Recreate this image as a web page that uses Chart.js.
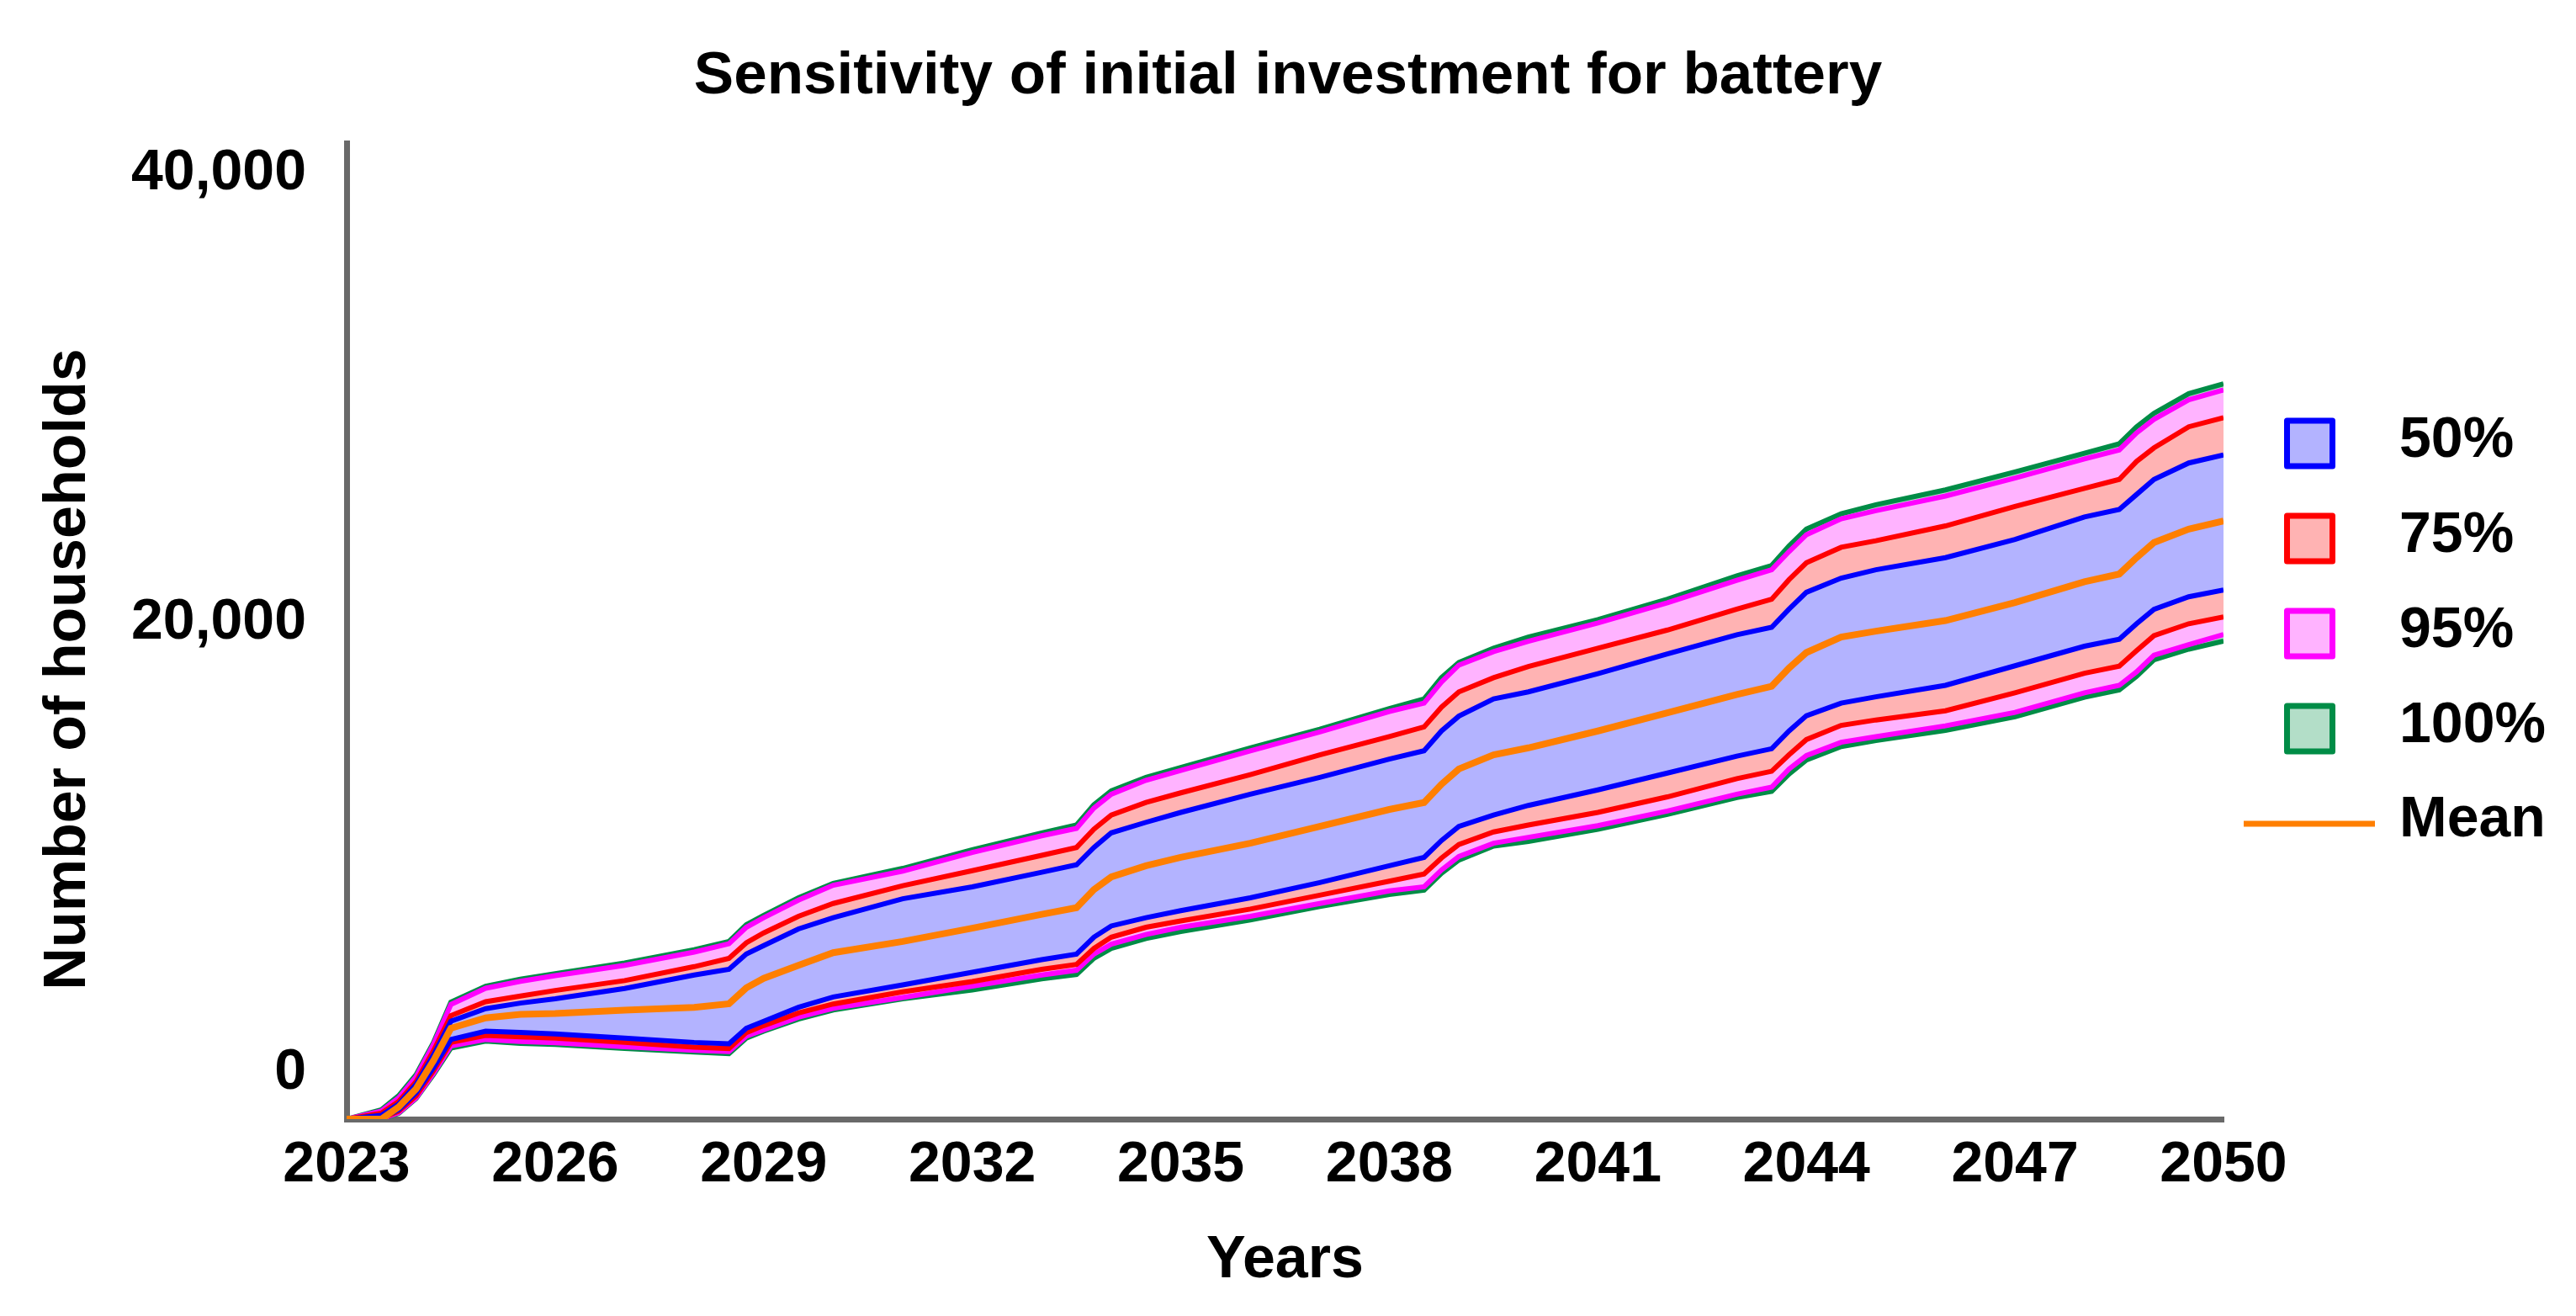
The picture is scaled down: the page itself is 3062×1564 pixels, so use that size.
<!DOCTYPE html>
<html>
<head>
<meta charset="utf-8">
<title>Sensitivity of initial investment for battery</title>
<script src="https://cdn.jsdelivr.net/npm/chart.js@4.4.1/dist/chart.umd.min.js"></script>
<style>
  html, body { margin: 0; padding: 0; background: #fff; }
  #wrap { width: 3062px; height: 1564px; position: relative; }
</style>
</head>
<body>
<div id="wrap"><canvas id="chart"></canvas></div>
<script>
// x positions (years)
const years = [2023, 2023.5, 2023.75, 2024, 2024.25, 2024.5, 2025, 2025.5, 2026, 2027, 2028,
  2028.5, 2028.75, 2029, 2029.5, 2030, 2031, 2032, 2033, 2033.5, 2033.75, 2034, 2034.5, 2035,
  2036, 2037, 2038, 2038.5, 2038.75, 2039, 2039.5, 2040, 2041, 2042, 2043, 2043.5, 2043.75,
  2044, 2044.5, 2045, 2046, 2047, 2048, 2048.5, 2048.75, 2049, 2049.5, 2050];

const mean = [0, 0, 540, 1350, 2600, 4040, 4500, 4660, 4700, 4850, 4970,
  5130, 5840, 6260, 6840, 7400, 7900, 8490, 9110, 9400, 10210, 10770, 11270, 11640,
  12270, 13020, 13770, 14080, 14890, 15570, 16200, 16510, 17260, 18070, 18880, 19250, 20060,
  20750, 21440, 21700, 22170, 22970, 23900, 24240, 24970, 25640, 26240, 26600];

const p50Upper = [0, 170, 670, 1540, 2850, 4350, 4910, 5160, 5350, 5810, 6410,
  6660, 7340, 7720, 8460, 8960, 9800, 10330, 10980, 11310, 12080, 12730, 13200, 13640,
  14450, 15200, 16010, 16380, 17260, 17920, 18690, 19000, 19810, 20690, 21540, 21870, 22680,
  23430, 24060, 24430, 24970, 25780, 26780, 27110, 27780, 28450, 29180, 29540];
const p50Lower = [0, 40, 420, 1170, 2290, 3540, 3910, 3850, 3790, 3600, 3410,
  3350, 4040, 4350, 4970, 5430, 5970, 6530, 7090, 7340, 8090, 8590, 8960, 9270,
  9840, 10520, 11270, 11640, 12390, 13020, 13520, 13950, 14640, 15390, 16140, 16470, 17260,
  17940, 18500, 18780, 19290, 20160, 21030, 21340, 22030, 22670, 23230, 23530];

const p75Upper = [0, 260, 790, 1670, 3040, 4600, 5220, 5470, 5720, 6160, 6780,
  7150, 7840, 8280, 9020, 9590, 10380, 11050, 11730, 12080, 12890, 13520, 14080, 14510,
  15320, 16200, 17010, 17440, 18320, 19000, 19630, 20130, 20940, 21750, 22680, 23120, 23990,
  24740, 25430, 25720, 26380, 27250, 28050, 28450, 29250, 29850, 30790, 31190];
const p75Lower = [0, 20, 360, 1040, 2160, 3410, 3720, 3660, 3600, 3410, 3200,
  3140, 3850, 4160, 4720, 5120, 5660, 6120, 6660, 6880, 7590, 8090, 8530, 8810,
  9340, 9960, 10580, 10900, 11610, 12210, 12770, 13080, 13640, 14330, 15140, 15470, 16200,
  16880, 17510, 17750, 18160, 18960, 19830, 20140, 20830, 21500, 22030, 22330];

const p95Upper = [0, 360, 950, 1880, 3320, 5100, 5820, 6130, 6380, 6840, 7430,
  7800, 8530, 8960, 9740, 10400, 11030, 11860, 12600, 12930, 13830, 14450, 15070, 15510,
  16380, 17220, 18130, 18500, 19440, 20190, 20790, 21250, 22060, 22960, 23960, 24430, 25240,
  25990, 26700, 27060, 27710, 28510, 29360, 29760, 30520, 31120, 31990, 32430];
const p95Lower = [0, 10, 290, 950, 2040, 3250, 3540, 3450, 3400, 3220, 3060,
  3000, 3690, 3970, 4530, 4930, 5410, 5910, 6410, 6620, 7340, 7780, 8210, 8530,
  9020, 9590, 10150, 10330, 11080, 11680, 12270, 12530, 13050, 13700, 14450, 14760, 15570,
  16170, 16760, 17010, 17490, 18090, 18960, 19290, 19890, 20630, 21100, 21550];

const p100Upper = [0, 420, 1040, 1980, 3410, 5200, 5910, 6220, 6470, 6940, 7530,
  7900, 8650, 9060, 9840, 10480, 11150, 11980, 12730, 13080, 13980, 14600, 15200, 15640,
  16510, 17340, 18260, 18690, 19630, 20310, 20940, 21440, 22210, 23120, 24160, 24620, 25490,
  26240, 26920, 27320, 27980, 28780, 29610, 30030, 30790, 31390, 32260, 32700];
const p100Lower = [0, 0, 260, 920, 1980, 3160, 3470, 3370, 3320, 3140, 2980,
  2910, 3600, 3910, 4450, 4850, 5350, 5740, 6240, 6430, 7150, 7590, 8030, 8340,
  8860, 9460, 9990, 10180, 10930, 11520, 12140, 12350, 12890, 13550, 14300, 14580, 15350,
  15970, 16570, 16840, 17290, 17890, 18760, 19090, 19690, 20430, 20900, 21260];

const xTicks = [2023, 2026, 2029, 2032, 2035, 2038, 2041, 2044, 2047, 2050];
const yTicks = [0, 20000, 40000];

const bandLabels = ["50%", "75%", "95%", "100%"];
const bandLines = ["#0000ff", "#ff0000", "#ff00ff", "#008c46"];
const bandFills = ["#b3b3ff", "#ffb3b3", "#ffb3ff", "#b3dec8"];
const meanLabel = "Mean";
const meanColor = "#ff7f00";

const FONT = '"Liberation Sans", Arial, Helvetica, sans-serif';
Chart.defaults.font.family = FONT;
Chart.defaults.font.weight = "bold";
Chart.defaults.color = "#000";

function pts(values) {
  return years.map((x, i) => ({ x: x, y: values[i] }));
}

function bandLine(values, color, fill, fillTarget) {
  return {
    data: pts(values),
    borderColor: color,
    backgroundColor: fill,
    borderWidth: 6,
    pointRadius: 0,
    tension: 0,
    fill: fillTarget === undefined ? false : fillTarget,
  };
}

// index order matters: fills and lines are drawn from the last dataset to the first
const datasets = [
  { data: pts(mean), borderColor: meanColor, borderWidth: 8, pointRadius: 0, tension: 0, fill: false },
  bandLine(p50Upper, bandLines[0], bandFills[0], 2),
  bandLine(p50Lower, bandLines[0], bandFills[0]),
  bandLine(p75Upper, bandLines[1], bandFills[1], 4),
  bandLine(p75Lower, bandLines[1], bandFills[1]),
  bandLine(p95Upper, bandLines[2], bandFills[2], 6),
  bandLine(p95Lower, bandLines[2], bandFills[2]),
  bandLine(p100Upper, bandLines[3], bandFills[3], 8),
  bandLine(p100Lower, bandLines[3], bandFills[3]),
];

// y title and the legend on the right
const extras = {
  id: "extras",
  afterDraw(chart) {
    const ctx = chart.ctx;
    const y = chart.scales.y;
    const area = chart.chartArea;

    ctx.save();
    ctx.fillStyle = "#000";
    ctx.font = "bold 70px " + FONT;
    const midY = (y.getPixelForValue(yTicks[0]) + y.getPixelForValue(yTicks[yTicks.length - 1])) / 2;
    ctx.translate(101, midY);
    ctx.rotate(-Math.PI / 2);
    ctx.textAlign = "center";
    ctx.textBaseline = "alphabetic";
    ctx.fillText("Number of households", 0, 0);
    ctx.restore();

    ctx.save();
    const cx = area.right + 102.5;
    const textX = area.right + 209;
    const top = 527, step = 113;
    ctx.font = "bold 68px " + FONT;
    ctx.textAlign = "left";
    ctx.textBaseline = "alphabetic";
    bandLabels.forEach((lab, i) => {
      const cy = top + i * step;
      ctx.fillStyle = bandFills[i];
      ctx.fillRect(cx - 27, cy - 27, 54, 54);
      ctx.lineWidth = 7;
      ctx.lineJoin = "round";
      ctx.strokeStyle = bandLines[i];
      ctx.strokeRect(cx - 27, cy - 27, 54, 54);
      ctx.fillStyle = "#000";
      ctx.fillText(lab, textX, cy + 16);
    });
    const my = top + bandLabels.length * step;
    ctx.strokeStyle = meanColor;
    ctx.lineWidth = 7;
    ctx.beginPath();
    ctx.moveTo(area.right + 24, my);
    ctx.lineTo(area.right + 180, my);
    ctx.stroke();
    ctx.fillStyle = "#000";
    ctx.fillText(meanLabel, textX, my + 15);
    ctx.restore();
  },
};

new Chart(document.getElementById("chart"), {
  type: "line",
  data: { datasets },
  plugins: [extras],
  options: {
    responsive: true,
    maintainAspectRatio: false,
    devicePixelRatio: 1,
    animation: false,
    layout: { padding: 0 },
    plugins: {
      legend: { display: false },
      tooltip: { enabled: false },
      filler: { drawTime: "beforeDatasetsDraw" },
      title: {
        display: true,
        text: "Sensitivity of initial investment for battery",
        color: "#000",
        font: { size: 71, weight: "bold", lineHeight: 1.2 },
        padding: { top: 49, bottom: 36 },
      },
    },
    scales: {
      x: {
        type: "linear",
        min: 2023,
        max: 2050,
        grid: { display: false, drawTicks: false },
        border: { display: true, color: "#696969", width: 7 },
        afterBuildTicks: (s) => { s.ticks = xTicks.map((v) => ({ value: v })); },
        afterFit: (s) => { s.height = 234; },
        ticks: {
          padding: 14,
          maxRotation: 0,
          autoSkip: false,
          color: "#000",
          font: { size: 68, weight: "bold", lineHeight: 1.2 },
          callback: (v) => String(v),
        },
        title: {
          display: true,
          text: "Years",
          color: "#000",
          font: { size: 70, weight: "bold", lineHeight: 1.2 },
          padding: { top: 0, bottom: 23 },
        },
      },
      y: {
        min: 0,
        max: 43400,
        grid: { display: false, drawTicks: false },
        border: { display: true, color: "#696969", width: 7 },
        afterBuildTicks: (s) => { s.ticks = yTicks.map((v) => ({ value: v })); },
        afterFit: (s) => { s.width = 412; },
        ticks: {
          padding: 48,
          labelOffset: -55,
          autoSkip: false,
          color: "#000",
          font: { size: 68, weight: "bold", lineHeight: 1.2 },
          callback: (v) => v.toLocaleString("en-US"),
        },
      },
      // empty right-hand axis that keeps room for the legend
      legendSpace: {
        position: "right",
        grid: { display: false, drawTicks: false },
        border: { display: false },
        ticks: { display: false },
        afterFit: (s) => { s.width = 419; },
      },
    },
  },
});
</script>
</body>
</html>
